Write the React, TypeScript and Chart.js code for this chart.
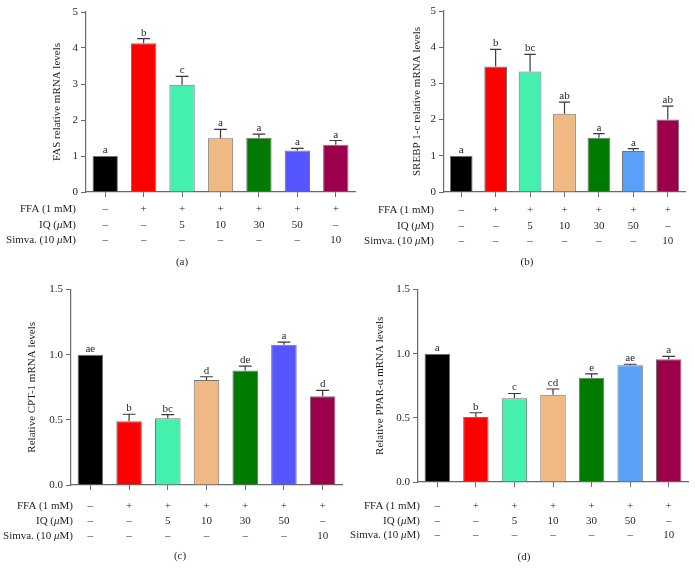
import React, { useEffect, useRef } from 'react';
import { Chart, registerables } from 'chart.js';

Chart.register(...registerables);

// ---------- data ----------
const groups = ['Control', 'FFA', 'FFA+IQ5', 'FFA+IQ10', 'FFA+IQ30', 'FFA+IQ50', 'FFA+Simva'];
const ffaRow = ['–', '+', '+', '+', '+', '+', '+'];
const iqRow = ['–', '–', '5', '10', '30', '50', '–'];
const simvaRow = ['–', '–', '–', '–', '–', '–', '10'];

const fasMean = [1.0, 4.13, 2.98, 1.49, 1.51, 1.15, 1.31];
const fasErr = [0, 0.13, 0.23, 0.25, 0.1, 0.06, 0.12];
const fasLetters = ['a', 'b', 'c', 'a', 'a', 'a', 'a'];

const srebpMean = [1.0, 3.47, 3.33, 2.16, 1.5, 1.13, 2.0];
const srebpErr = [0, 0.47, 0.47, 0.32, 0.11, 0.07, 0.37];
const srebpLetters = ['a', 'b', 'bc', 'ab', 'a', 'a', 'ab'];

const cptMean = [1.0, 0.49, 0.513, 0.806, 0.879, 1.077, 0.681];
const cptErr = [0, 0.053, 0.028, 0.025, 0.033, 0.02, 0.045];
const cptLetters = ['ae', 'b', 'bc', 'd', 'de', 'a', 'd'];

const pparMean = [1.0, 0.507, 0.652, 0.68, 0.8125, 0.91, 0.9575];
const pparErr = [0, 0.033, 0.038, 0.045, 0.03, 0.008, 0.022];
const pparLetters = ['a', 'b', 'c', 'cd', 'e', 'ae', 'a'];

const ticksFas = [0, 1, 2, 3, 4, 5];
const ticksSrebp = [0, 1, 2, 3, 4, 5];
const ticksCpt = [0, 0.5, 1.0, 1.5];
const ticksPpar = [0, 0.5, 1.0, 1.5];

const colorsAC = ['#000000', '#ff0000', '#45efae', '#f0b882', '#007a00', '#5656ff', '#9c004a'];
const colorsBD = ['#000000', '#ff0000', '#45efae', '#f0b882', '#007a00', '#58a0f8', '#9c004a'];

// ---------- styling / layout ----------
const FONT = "'Liberation Serif', 'DejaVu Serif', serif";
const TEXT = '#231f20';
const AXIS = '#6a6a6a';

type Panel = {
  left: number; top: number; w: number; h: number;
  area: { l: number; t: number; r: number; b: number };
  titleX: number; yTitle: string;
  means: number[]; errs: number[]; letters: string[];
  ticks: number[]; decimals: number; colors: string[];
  rowY: number[]; labelRight: number;
  caption: string; capX: number; capY: number;
};

const panels: Panel[] = [
  {
    left: 0, top: 0, w: 360, h: 280, area: { l: 86, t: 12, r: 355, b: 192 },
    titleX: 57, yTitle: 'FAS relative mRNA levels',
    means: fasMean, errs: fasErr, letters: fasLetters, ticks: ticksFas, decimals: 0, colors: colorsAC,
    rowY: [209, 225, 240], labelRight: 76, caption: '(a)', capX: 182, capY: 262,
  },
  {
    left: 347, top: 0, w: 348, h: 280, area: { l: 444, t: 11, r: 685, b: 192 },
    titleX: 417, yTitle: 'SREBP 1-c relative mRNA levels',
    means: srebpMean, errs: srebpErr, letters: srebpLetters, ticks: ticksSrebp, decimals: 0, colors: colorsBD,
    rowY: [210, 226, 241], labelRight: 434, caption: '(b)', capX: 527, capY: 262,
  },
  {
    left: 0, top: 280, w: 347, h: 289, area: { l: 71, t: 285, r: 342, b: 485 },
    titleX: 32, yTitle: 'Relative CPT-1 mRNA levels',
    means: cptMean, errs: cptErr, letters: cptLetters, ticks: ticksCpt, decimals: 1, colors: colorsAC,
    rowY: [506, 521, 536], labelRight: 73, caption: '(c)', capX: 180, capY: 556,
  },
  {
    left: 347, top: 280, w: 348, h: 289, area: { l: 418, t: 282, r: 688, b: 482 },
    titleX: 380, yTitle: 'Relative PPAR-α mRNA levels',
    means: pparMean, errs: pparErr, letters: pparLetters, ticks: ticksPpar, decimals: 1, colors: colorsBD,
    rowY: [506, 521, 535], labelRight: 420, caption: '(d)', capX: 524, capY: 557,
  },
];

const rowLabels: Array<Array<[string, boolean]>> = [
  [['FFA (1 mM)', false]],
  [['IQ (', false], ['μ', true], ['M)', false]],
  [['Simva. (10 ', false], ['μ', true], ['M)', false]],
];
const rowValues = [ffaRow, iqRow, simvaRow];

const annotPlugin = {
  id: 'annot',
  afterDatasetsDraw(chart: any, _args: any, opts: any) {
    const p: Panel = opts.panel;
    if (!p) return;
    const ctx = chart.ctx as CanvasRenderingContext2D;
    const ys = chart.scales.y;
    const meta = chart.getDatasetMeta(0);
    ctx.save();
    meta.data.forEach((bar: any, i: number) => {
      const m = p.means[i];
      const e = p.errs[i];
      const x = bar.x;
      const yTop = ys.getPixelForValue(m);
      const yErr = ys.getPixelForValue(m + e);
      if (e > 0) {
        const half = bar.width * 0.25;
        ctx.strokeStyle = '#3a3a3a';
        ctx.lineWidth = 1.2;
        ctx.beginPath();
        ctx.moveTo(x, yTop);
        ctx.lineTo(x, yErr);
        ctx.moveTo(x - half, yErr);
        ctx.lineTo(x + half, yErr);
        ctx.stroke();
      }
      ctx.fillStyle = TEXT;
      ctx.font = `11px ${FONT}`;
      ctx.textAlign = 'center';
      ctx.textBaseline = 'alphabetic';
      ctx.fillText(p.letters[i], x, yErr - 3);
    });
    ctx.restore();
  },
  afterDraw(chart: any, _args: any, opts: any) {
    const p: Panel = opts.panel;
    if (!p) return;
    const ctx = chart.ctx as CanvasRenderingContext2D;
    const xs = chart.scales.x;
    ctx.save();
    ctx.fillStyle = TEXT;
    ctx.textBaseline = 'middle';
    rowLabels.forEach((segs, r) => {
      const y = p.rowY[r] - p.top;
      let total = 0;
      const widths = segs.map(([t, it]) => {
        ctx.font = `${it ? 'italic ' : ''}11px ${FONT}`;
        const w = ctx.measureText(t).width;
        total += w;
        return w;
      });
      let x = p.labelRight - p.left - total;
      ctx.textAlign = 'left';
      segs.forEach(([t, it], k) => {
        ctx.font = `${it ? 'italic ' : ''}11px ${FONT}`;
        ctx.fillText(t, x, y);
        x += widths[k];
      });
      ctx.font = `11px ${FONT}`;
      ctx.textAlign = 'center';
      rowValues[r].forEach((v, i) => {
        ctx.fillText(v, xs.getPixelForValue(i), y);
      });
    });
    ctx.font = `11px ${FONT}`;
    ctx.textAlign = 'center';
    ctx.fillText(p.caption, p.capX - p.left, p.capY - p.top);
    ctx.restore();
  },
};

function PanelChart({ p }: { p: Panel }) {
  const ref = useRef<HTMLCanvasElement>(null);
  useEffect(() => {
    if (!ref.current) return;
    const yWidth = p.area.l - p.left;
    const xHeight = p.h - (p.area.b - p.top);
    const chart = new Chart(ref.current, {
      type: 'bar',
      data: {
        labels: groups,
        datasets: [
          {
            data: p.means,
            backgroundColor: p.colors,
            borderColor: 'rgba(70,70,70,0.75)',
            borderWidth: 1,
            barPercentage: 0.66,
            categoryPercentage: 1,
          },
        ],
      },
      options: {
        responsive: false,
        animation: false,
        devicePixelRatio: 1,
        layout: {
          padding: { left: 0, top: p.area.t - p.top, right: p.w - (p.area.r - p.left), bottom: 0 },
        },
        plugins: {
          legend: { display: false },
          tooltip: { enabled: false },
          annot: { panel: p },
        } as any,
        scales: {
          x: {
            type: 'category',
            offset: true,
            grid: { display: true, drawOnChartArea: false, drawTicks: true, tickLength: 5, offset: false, color: AXIS, lineWidth: 1 },
            border: { display: true, color: AXIS, width: 1.2 },
            ticks: { display: false },
            afterFit: (s: any) => { s.height = xHeight; },
          },
          y: {
            min: p.ticks[0],
            max: p.ticks[p.ticks.length - 1],
            grid: { display: true, drawOnChartArea: false, drawTicks: true, tickLength: 5, color: AXIS, lineWidth: 1 },
            border: { display: true, color: AXIS, width: 1.2 },
            afterBuildTicks: (s: any) => { s.ticks = p.ticks.map((v) => ({ value: v })); },
            ticks: {
              padding: 3,
              color: TEXT,
              font: { family: FONT, size: 11 },
              callback: (v: any) => Number(v).toFixed(p.decimals),
            },
            title: {
              display: true,
              text: p.yTitle,
              color: TEXT,
              font: { family: FONT, size: 11 },
              padding: { top: p.titleX - p.left - 6.6, bottom: 0 },
            },
            afterFit: (s: any) => { s.width = yWidth; },
          },
        },
      } as any,
      plugins: [annotPlugin],
    });
    return () => chart.destroy();
  }, [p]);
  return (
    <canvas
      ref={ref}
      width={p.w}
      height={p.h}
      style={{ position: 'absolute', left: p.left, top: p.top, width: p.w, height: p.h }}
    />
  );
}

export default function App() {
  return (
    <div style={{ position: 'absolute', left: 0, top: 0, width: 695, height: 569, background: '#ffffff', overflow: 'hidden' }}>
      {panels.map((p) => (
        <PanelChart key={p.caption} p={p} />
      ))}
    </div>
  );
}
